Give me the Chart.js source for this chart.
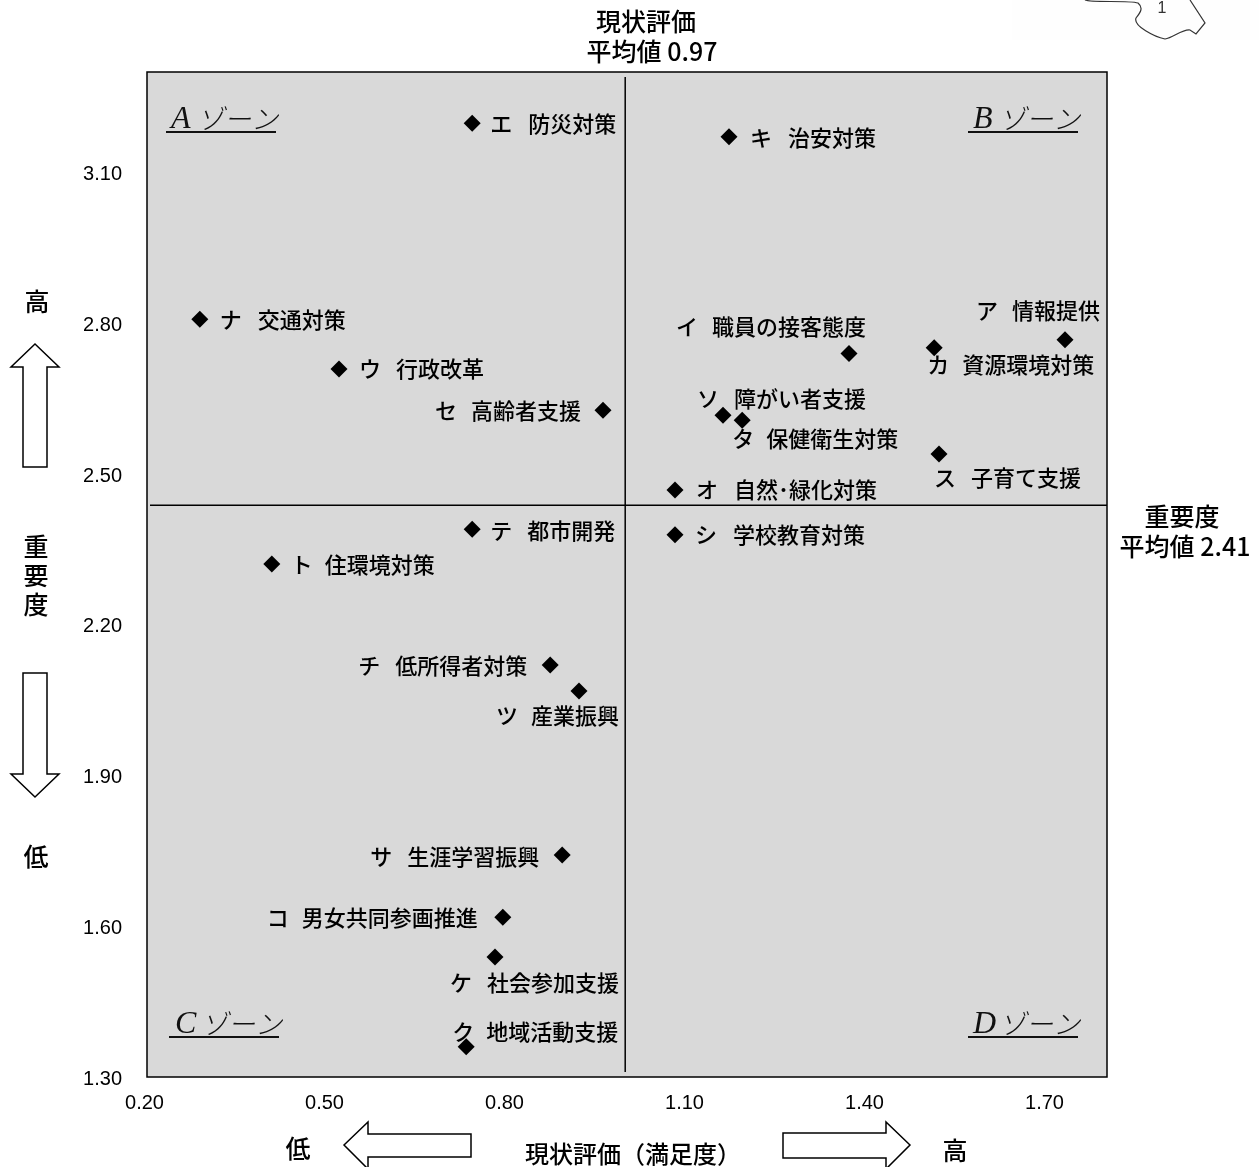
<!DOCTYPE html>
<html lang="ja">
<head>
<meta charset="utf-8">
<title>現状評価 重要度</title>
<script src="https://cdn.jsdelivr.net/npm/chart.js@4"></script>
<style>
  html, body { margin: 0; padding: 0; background: #fff; }
  canvas { display: block; }
</style>
</head>
<body>
<canvas id="chart" width="1259" height="1167"></canvas>
<script>
// values
const codes = ['ア','イ','ウ','エ','オ','カ','キ','ク','ケ','コ','サ','シ','ス','セ','ソ','タ','チ','ツ','テ','ト','ナ'];
const items = ['情報提供','職員の接客態度','行政改革','防災対策','自然･緑化対策','資源環境対策','治安対策','地域活動支援','社会参加支援','男女共同参画推進','生涯学習振興','学校教育対策','子育て支援','高齢者支援','障がい者支援','保健衛生対策','低所得者対策','産業振興','都市開発','住環境対策','交通対策'];
const satisfaction = [1.73,1.37,0.52,0.742,1.08,1.512,1.17,0.732,0.78,0.793,0.892,1.08,1.52,0.96,1.16,1.192,0.872,0.92,0.742,0.408,0.288];
const importance = [2.767,2.74,2.709,3.198,2.468,2.751,3.171,1.36,1.539,1.618,1.742,2.379,2.54,2.627,2.617,2.607,2.12,2.068,2.39,2.321,2.808];
const xTicks = [0.2,0.5,0.8,1.1,1.4,1.7];
const yTicks = [1.3,1.6,1.9,2.2,2.5,2.8,3.1];
// the lines are drawn a little off the printed averages, as in the picture
const meanLineX = [0.997,0.997];
const meanLineXSpan = [1.31,3.29];
const meanLineY = [2.438,2.438];
const meanLineYSpan = [0.205,1.8];

// label offset from its point and gap between kana and name, px
const labelOffsets = [[-88,-29],[-172,-27],[21,0],[19,0],[22,0],[-6,17],[22,1],[-13,-15],[-44,26],[-235,0],[-191,2],[21,0],[-4,24],[-167,0],[-25,-17],[-9,18],[-191,1],[-82,25],[19,1],[20,1],[21,0]];
const nameGaps = [35,35,36,37,37,34,37,33,36,34,36,37,36,35,36,33,36,34,36,33,37];

const JP = '"Noto Sans CJK JP", sans-serif';

function text(ctx, str, x, y, size, align) {
  ctx.font = `500 ${size}px ${JP}`;
  ctx.textAlign = align || 'center';
  ctx.textBaseline = 'middle';
  ctx.fillStyle = '#000';
  ctx.fillText(str, x, y);
}

function polygon(ctx, pts) {
  ctx.beginPath();
  pts.forEach((p, i) => i ? ctx.lineTo(p[0], p[1]) : ctx.moveTo(p[0], p[1]));
  ctx.closePath();
  ctx.fillStyle = '#fff';
  ctx.fill();
  ctx.strokeStyle = '#000';
  ctx.lineWidth = 1.5;
  ctx.stroke();
}

function zone(ctx, letter, x, y, lineX) {
  ctx.fillStyle = '#111';
  ctx.textBaseline = 'middle';
  ctx.textAlign = 'left';
  ctx.font = 'italic 32px "Liberation Serif", serif';
  ctx.fillText(letter, x, y);
  ctx.font = `italic 300 27px ${JP}`;
  ctx.fillText('ゾーン', x + 26, y - 1);
  ctx.strokeStyle = '#111';
  ctx.lineWidth = 2;
  ctx.beginPath();
  ctx.moveTo(lineX, y + 12);
  ctx.lineTo(lineX + 110, y + 12);
  ctx.stroke();
}

// grey plot background
const plotBackground = {
  id: 'plotBackground',
  beforeDraw(chart) {
    const { ctx, chartArea: a } = chart;
    ctx.save();
    ctx.fillStyle = '#fefefe'; // faint smudge behind the cut-off map
    ctx.fillRect(1012, 0, 247, 40);
    ctx.fillStyle = '#d9d9d9';
    ctx.fillRect(a.left, a.top, a.width, a.height);
    ctx.restore();
  }
};

// frame, point labels, zone names and the text/arrows around the plot
const annotations = {
  id: 'annotations',
  afterDraw(chart) {
    const { ctx, chartArea: a } = chart;
    const pts = chart.getDatasetMeta(0).data;
    ctx.save();
    ctx.strokeStyle = '#000';
    ctx.lineWidth = 1.5;
    ctx.strokeRect(a.left, a.top, a.width, a.height);

    pts.forEach((p, i) => {
      const x = p.x + labelOffsets[i][0];
      const y = p.y + labelOffsets[i][1];
      text(ctx, codes[i], x - 1, y, 22, 'left');
      text(ctx, items[i], x + nameGaps[i], y, 22, 'left');
    });

    zone(ctx, 'A', 171, 120, 166);
    zone(ctx, 'B', 973, 120, 968);
    zone(ctx, 'C', 175, 1025, 169);
    zone(ctx, 'D', 973, 1025, 968);

    text(ctx, '現状評価', 646, 21, 25);
    text(ctx, '平均値 0.97', 652, 51, 25);
    text(ctx, '重要度', 1182, 516, 25);
    text(ctx, '平均値 2.41', 1185, 546, 25);
    text(ctx, '高', 37, 301, 25);
    text(ctx, '重', 36, 546, 25);
    text(ctx, '要', 36, 575, 25);
    text(ctx, '度', 36, 604, 25);
    text(ctx, '低', 36, 856, 25);
    text(ctx, '低', 298, 1148, 25);
    text(ctx, '高', 955, 1150, 25);
    text(ctx, '現状評価\uFF08満足度\uFF09', 633, 1154, 24);

    polygon(ctx, [[35,344],[59,367],[47,367],[47,467],[23,467],[23,367],[11,367]]);
    polygon(ctx, [[23,673],[47,673],[47,774],[59,774],[35,797],[11,774],[23,774]]);
    polygon(ctx, [[344,1145],[368,1122],[368,1134],[471,1134],[471,1157],[368,1157],[368,1169]]);
    polygon(ctx, [[910,1145],[886,1122],[886,1133],[783,1133],[783,1158],[886,1158],[886,1169]]);

    // corner of the map that is cut off at the top of the page
    ctx.strokeStyle = '#333';
    ctx.lineWidth = 1.2;
    ctx.beginPath();
    ctx.moveTo(1085, 0);
    ctx.bezierCurveTo(1092, 3, 1128, 0, 1138, 3);
    ctx.bezierCurveTo(1144, 8, 1140, 13, 1136, 18);
    ctx.bezierCurveTo(1133, 26, 1155, 37, 1165, 39);
    ctx.bezierCurveTo(1173, 38, 1182, 29, 1190, 30);
    ctx.lineTo(1196, 34);
    ctx.lineTo(1205, 23);
    ctx.lineTo(1190, 0);
    ctx.stroke();
    ctx.font = '16px "Liberation Sans", sans-serif';
    ctx.fillStyle = '#333';
    ctx.textAlign = 'center';
    ctx.textBaseline = 'middle';
    ctx.fillText('1', 1162, 9);
    ctx.restore();
  }
};

function meanLine(xs, ys) {
  return {
    type: 'line',
    data: xs.map((x, i) => ({ x, y: ys[i] })),
    borderColor: '#000',
    borderWidth: 1.5,
    pointRadius: 0,
    fill: false
  };
}

const tickFont = { family: '"Liberation Sans", sans-serif', size: 20 };

new Chart(document.getElementById('chart').getContext('2d'), {
  type: 'scatter',
  data: {
    datasets: [
      {
        data: satisfaction.map((x, i) => ({ x, y: importance[i] })),
        pointStyle: 'rectRot',
        pointRadius: 8.5,
        pointBackgroundColor: '#000',
        pointBorderWidth: 0
      },
      meanLine(meanLineX, meanLineXSpan),
      meanLine(meanLineYSpan, meanLineY)
    ]
  },
  options: {
    responsive: false,
    animation: false,
    layout: { padding: { top: 72, right: 152 } },
    plugins: { legend: { display: false }, tooltip: { enabled: false } },
    scales: {
      x: {
        type: 'linear',
        min: 0.2,
        max: 1.8,
        grid: { display: false, drawTicks: false },
        border: { display: false },
        afterBuildTicks: s => { s.ticks = xTicks.map(value => ({ value })); },
        afterFit: s => { s.height = 90; },
        ticks: {
          color: '#000',
          font: tickFont,
          padding: 14,
          labelOffset: -2.5,
          maxRotation: 0,
          callback: v => v.toFixed(2)
        }
      },
      y: {
        type: 'linear',
        min: 1.3,
        max: 3.3,
        grid: { display: false, drawTicks: false },
        border: { display: false },
        afterBuildTicks: s => { s.ticks = yTicks.map(value => ({ value })); },
        afterFit: s => { s.width = 147; },
        ticks: {
          color: '#000',
          font: tickFont,
          padding: 25,
          labelOffset: 2,
          callback: v => v.toFixed(2)
        }
      }
    }
  },
  plugins: [plotBackground, annotations]
});
</script>
</body>
</html>
